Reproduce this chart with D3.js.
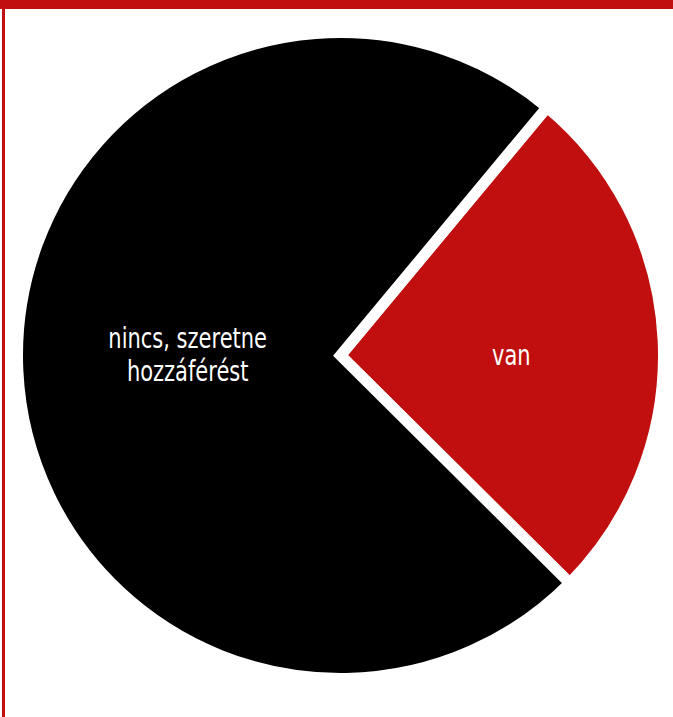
<!DOCTYPE html>
<html>
<head>
<meta charset="utf-8">
<script src="https://cdn.jsdelivr.net/npm/d3@7"></script>
<style>
  body { margin: 0; background: #fff; }
  svg { display: block; }
</style>
</head>
<body>
<svg id="chart" width="673" height="717"></svg>
<script>
// data
const categories = ['van', 'nincs, szeretne hozzáférést'];
const values = [26.4, 73.6];
const colors = ['#c10f0f', '#000000'];

const W = 673, H = 717;
const cx = 340.5, cy = 355.5;
const R = 323;          // drawn radius, white stroke eats half of the width
const strokeW = 11;
const startDeg = 39.75;

const svg = d3.select('#chart');

// frame: red bar on top, thin red line on the left
svg.append('rect').attr('x', 0).attr('y', 0).attr('width', W).attr('height', 9).attr('fill', '#c10f0f');
svg.append('rect').attr('x', 2).attr('y', 0).attr('width', 3).attr('height', H).attr('fill', '#c10f0f');

const pie = d3.pie()
  .sort(null)
  .value((d) => d.value)
  .startAngle(startDeg * Math.PI / 180)
  .endAngle((startDeg + 360) * Math.PI / 180);

const rows = categories.map((c, i) => ({ name: c, value: values[i], color: colors[i] }));
const arcs = pie(rows);

const arc = d3.arc().innerRadius(0).outerRadius(R);
const labelArc = d3.arc().innerRadius(324).outerRadius(0);

const g = svg.append('g').attr('transform', `translate(${cx}, ${cy})`);

g.selectAll('path.slice')
  .data(arcs)
  .join('path')
  .attr('class', 'slice')
  .attr('d', arc)
  .attr('fill', (d) => d.data.color)
  .attr('stroke', '#fff')
  .attr('stroke-width', strokeW)
  .attr('stroke-linejoin', 'miter');

// labels (condensed look: narrow the glyphs with a horizontal scale)
const lineH = 33;
const labelDx = 9;
const labels = g.selectAll('text.lab')
  .data(arcs)
  .join('text')
  .attr('class', 'lab')
  .attr('text-anchor', 'middle')
  .attr('fill', '#fff')
  .style('font-family', '"DejaVu Sans", sans-serif')
  .style('font-size', '28px')
  .attr('transform', (d) => `translate(${labelArc.centroid(d)[0] + labelDx}, 0) scale(0.75, 1)`);

labels.each(function(d){
  const words = d.data.name === 'nincs, szeretne hozzáférést'
    ? ['nincs, szeretne', 'hozzáférést'] : [d.data.name];
  const n = words.length;
  d3.select(this).selectAll('tspan')
    .data(words)
    .join('tspan')
    .attr('x', 0)
    .attr('y', (w, i) => (i - (n - 1) / 2) * lineH)
    .attr('dy', '0.33em')
    .text((w) => w);
});
</script>
</body>
</html>
